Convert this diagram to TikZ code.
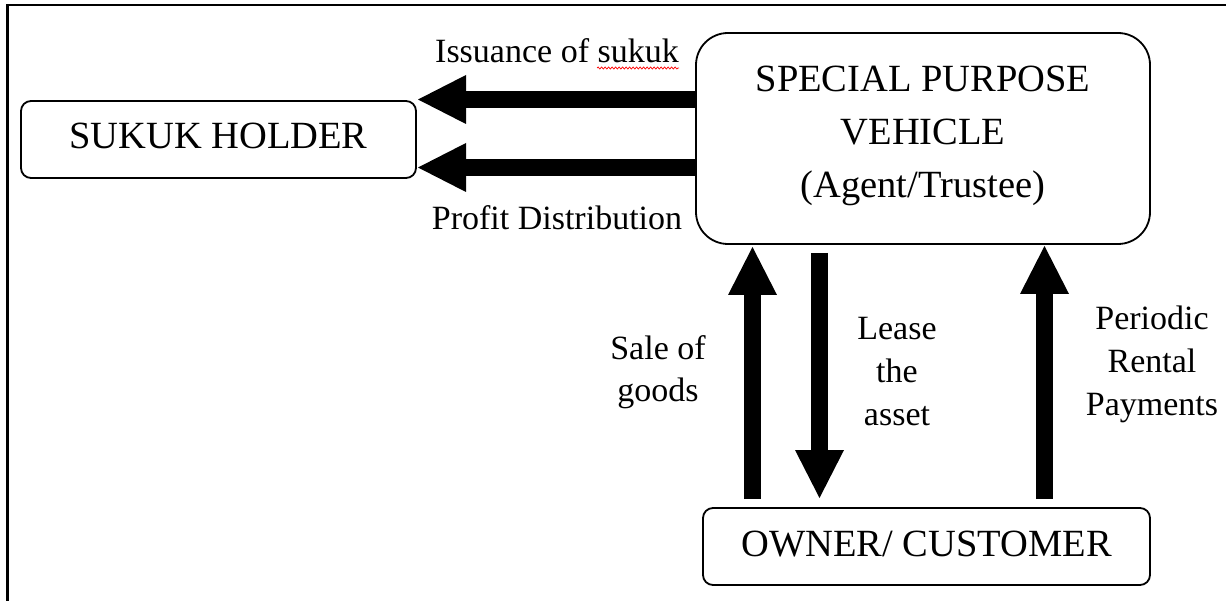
\documentclass[tikz,border=0pt]{standalone}
\usepackage{fontspec}
\setmainfont{Liberation Serif}
\usetikzlibrary{arrows.meta,decorations.pathmorphing}
\begin{document}
\begin{tikzpicture}[x=1pt,y=-1pt,
  frame/.style={line width=2.2pt},
  box/.style={draw, line width=1.8pt, inner sep=0pt, outer sep=0pt, align=center,
    font=\fontsize{38.5}{53}\selectfont},
  lbl/.style={inner sep=0pt, align=center, anchor=base, font=\fontsize{34}{43}\selectfont},
  flow/.style={line width=17pt, -{Triangle[length=48pt,width=49pt,line width=0pt]}},
  squiggle/.style={red, line width=0.7pt, decorate,
    decoration={snake, amplitude=1pt, segment length=3.5pt}},
]
\useasboundingbox (0,0) rectangle (1226,601);

% page frame (left and top edges)
\draw[frame] (7.5,601) -- (7.5,5) -- (1226,5);

% parties
\node[box, rounded corners=10pt, minimum width=395pt, minimum height=77pt, text depth=8pt]
  (holder) at (218.5,139.5) {SUKUK HOLDER};
\node[box, rounded corners=32pt, minimum width=454pt, minimum height=211pt, text depth=14.4pt]
  (spv) at (923,138.5) {SPECIAL PURPOSE\\VEHICLE\\(Agent/Trustee)};
\node[box, rounded corners=10pt, minimum width=447pt, minimum height=77pt, text depth=4.5pt]
  (owner) at (926.5,546.5) {OWNER/ CUSTOMER};

% helper coordinates for the arrow lanes
\coordinate (laneIssue) at (0,99.5);
\coordinate (laneProfit) at (0,167.5);
\coordinate (laneSale) at (752.5,0);
\coordinate (laneLease) at (819.5,0);
\coordinate (laneRent) at (1044.5,0);

% flows between SPV and sukuk holders
\draw[flow, shorten >=2pt] (spv.west |- laneIssue) -- (holder.east |- laneIssue);
\draw[flow, shorten >=2pt] (spv.west |- laneProfit) -- (holder.east |- laneProfit);

% flows between owner/customer and SPV
\draw[flow, shorten <=9pt, shorten >=3pt] (owner.north -| laneSale) -- (spv.south -| laneSale);
\draw[flow, shorten <=9pt, shorten >=10pt] (spv.south -| laneLease) -- (owner.north -| laneLease);
\draw[flow, shorten <=9pt, shorten >=2pt] (owner.north -| laneRent) -- (spv.south -| laneRent);

% labels (multi-line labels are placed by the baseline of their last line)
\node[lbl] (issue) at (557,63) {Issuance of sukuk};
\draw[squiggle] (597,68) -- (679,68);
\node[lbl] (profit) at (557,230) {Profit Distribution};
\node[lbl] (sale) at (658,402) {Sale of\\goods};
\node[lbl] (lease) at (897,425) {Lease\\the\\asset};
\node[lbl] (rent) at (1152,415) {Periodic\\Rental\\Payments};
\end{tikzpicture}
\end{document}
